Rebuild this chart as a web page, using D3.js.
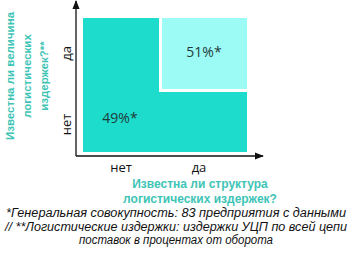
<html>
<head>
<meta charset="utf-8">
<script src="https://d3js.org/d3.v7.min.js"></script>
<style>
body { margin: 0; background: #fff; }
svg { display: block; }
</style>
</head>
<body>
<svg></svg>
<script>

var width = 352;
var height = 257;

// categories and shares
var xCats = ["нет", "да"];
var yCats = ["да", "нет"];
var shares = [49, 51];
var shareLabels = ["49%*", "51%*"];
var yTitle = ["Известна ли величина", "логистических", "издержек?**"];
var xTitle = ["Известна ли структура", "логистических издержек?"];
var notes = [
	"*Генеральная совокупность: 83 предприятия с данными",
	"// **Логистические издержки: издержки УЦП по всей цепи",
	"поставок в процентах от оборота"
];
var noteWidths = [340, 342, 194];

var dark = "#1ddccb";
var light = "#9cfbf5";
var teal = "#3ec4b6";

var svg = d3.select("svg").attr("width", width).attr("height", height);

var xScale = d3.scaleBand().domain(xCats).range([82, 238]);
var yScale = d3.scaleBand().domain(yCats).range([18, 160]);
var bw = xScale.bandwidth(), bh = yScale.bandwidth();

var plotL = 83, plotR = 247, plotT = 18, plotB = 152, gap = 3;

// L-shaped "no" region: full rect, then cut out the yes/yes cell
svg.append("rect")
.attr("x", plotL).attr("y", plotT)
.attr("width", plotR - plotL).attr("height", plotB - plotT)
.style("fill", dark);

var cx = xScale("да") + 2;
var cy = yScale("нет");
svg.append("rect")
.attr("x", cx - gap).attr("y", plotT)
.attr("width", plotR - cx + gap).attr("height", cy - plotT + gap)
.style("fill", "#fff");
svg.append("rect")
.attr("x", cx).attr("y", plotT)
.attr("width", plotR - cx).attr("height", cy - plotT)
.style("fill", light);

// share labels
svg.append("text")
.attr("x", xScale("нет") + bw / 2 - 1).attr("y", 123)
.attr("text-anchor", "middle")
.style("font", "14px 'Open Sans', sans-serif").style("fill", "#1f3a3a")
.text(shareLabels[0]);
svg.append("text")
.attr("x", xScale("да") + bw / 2 + 5).attr("y", 57)
.attr("text-anchor", "middle")
.style("font", "14px 'Open Sans', sans-serif").style("fill", "#1f3a3a")
.text(shareLabels[1]);

// axes with arrows
svg.append("defs").append("marker")
.attr("id", "arrow").attr("viewBox", "0 0 10 10")
.attr("refX", 9).attr("refY", 5)
.attr("markerWidth", 9).attr("markerHeight", 9)
.attr("markerUnits", "userSpaceOnUse")
.attr("orient", "auto-start-reverse")
.append("path").attr("d", "M0,1 L10,5 L0,9 Z").style("fill", "#111");

svg.append("line")
.attr("x1", 76).attr("y1", 156).attr("x2", 263).attr("y2", 156)
.style("stroke", "#111").style("stroke-width", 1.3)
.attr("marker-end", "url(#arrow)");
svg.append("line")
.attr("x1", 76).attr("y1", 156).attr("x2", 76).attr("y2", 1)
.style("stroke", "#111").style("stroke-width", 1.3)
.attr("marker-end", "url(#arrow)");

// tick labels
svg.selectAll(".xt").data(xCats).enter().append("text")
.attr("x", function (d) { return xScale(d) + bw / 2; })
.attr("y", 172)
.attr("text-anchor", "middle")
.style("font", "13px 'Open Sans', sans-serif").style("fill", "#111")
.text(function (d) { return d; });

svg.selectAll(".yt").data(yCats).enter().append("text")
.attr("transform", function (d) {
	return "translate(71," + (yScale(d) + bh / 2) + ") rotate(-90)";
})
.attr("text-anchor", "middle")
.style("font", "13px 'Open Sans', sans-serif").style("fill", "#111")
.text(function (d) { return d; });

// axis titles
svg.append("text")
.attr("transform", "translate(0,76) rotate(-90)")
.attr("text-anchor", "middle")
.style("font", "bold 11.5px 'Liberation Sans', Arial, sans-serif").style("fill", teal)
.selectAll("tspan").data(yTitle).enter().append("tspan")
.attr("x", 0).attr("y", function (d, i) { return 14 + i * 17; })
.text(function (d) { return d; });

svg.append("text")
.attr("text-anchor", "middle")
.style("font", "bold 12px 'Liberation Sans', Arial, sans-serif").style("fill", teal)
.selectAll("tspan").data(xTitle).enter().append("tspan")
.attr("x", 200).attr("y", function (d, i) { return 188 + i * 15; })
.text(function (d) { return d; });

// footnote
svg.selectAll(".note").data(notes).enter().append("text")
.attr("x", 176).attr("y", function (d, i) { return 217 + i * 13.5; })
.attr("text-anchor", "middle")
.attr("textLength", function (d, i) { return noteWidths[i]; })
.attr("lengthAdjust", "spacingAndGlyphs")
.style("font", "italic 12.5px 'Liberation Sans', Arial, sans-serif").style("fill", "#111")
.text(function (d) { return d; });

</script>
</body>
</html>
